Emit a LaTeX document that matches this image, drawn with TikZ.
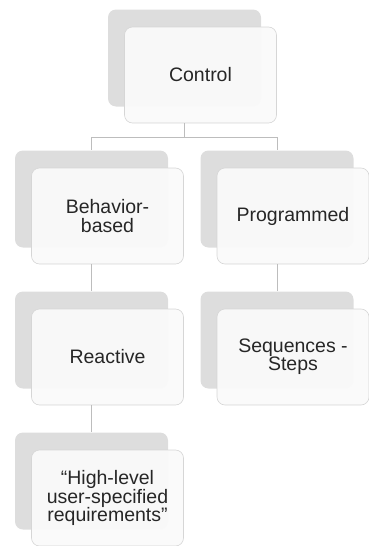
\documentclass[tikz,border=0pt]{standalone}
\usepackage{fontspec}
\setmainfont{Liberation Sans}
\usetikzlibrary{positioning}
\definecolor{backgray}{HTML}{DDDDDD}
\definecolor{frontfill}{HTML}{FAFAFA}
\definecolor{framegray}{HTML}{D6D6D6}
\definecolor{linegray}{HTML}{BDBDBD}
\definecolor{textgray}{HTML}{262626}

\begin{document}
\begin{tikzpicture}[x=1pt,y=-1pt,
	backbox/.style={draw=none,fill=backgray,rounded corners=8pt,minimum width=153pt,minimum height=97pt,inner sep=0pt},
	frontbox/.style={draw=framegray,line width=0.6pt,fill=frontfill,fill opacity=0.96,text opacity=1,rounded corners=8pt,minimum width=152pt,minimum height=96pt,inner sep=0pt,align=center,text=textgray,font=\fontsize{19.5}{18.4}\selectfont},
	link/.style={draw=linegray,line width=0.8pt}]
		\useasboundingbox(0,0)rectangle(369,546);
		\node[backbox](ctrlback)at(184.5,58){};
		\node[frontbox](ctrl)at(200.5,75){Control};
		\node[backbox](behback)at(91.5,199){};
		\node[frontbox,below right=-80pt and -137pt of behback](beh){Behavior-\\based};
		\node[backbox](progback)at(277,199){};
		\node[frontbox,below right=-80pt and -137pt of progback](prog){Programmed};
		\node[backbox](reactback)at(91.5,340){};
		\node[frontbox,below right=-80pt and -137pt of reactback](react){Reactive};
		\node[backbox](seqback)at(277,340){};
		\node[frontbox,below right=-80pt and -137pt of seqback](seq){Sequences -\\Steps};
		\node[backbox](highback)at(91.5,481){};
		\node[frontbox,below right=-80pt and -137pt of highback](high){“High-level\\user-specified\\requirements”};
		\coordinate(fork)at(ctrlback.south|-0,137);
		\draw[link](ctrlback.center|-ctrl.south)--(fork);
		\draw[link](fork)-|(behback.north);
		\draw[link](fork)-|(progback.north);
		\draw[link](behback.center|-beh.south)--(reactback.north);
		\draw[link](progback.center|-prog.south)--(seqback.north);
		\draw[link](reactback.center|-react.south)--(highback.north);
	\end{tikzpicture}
\end{document}
